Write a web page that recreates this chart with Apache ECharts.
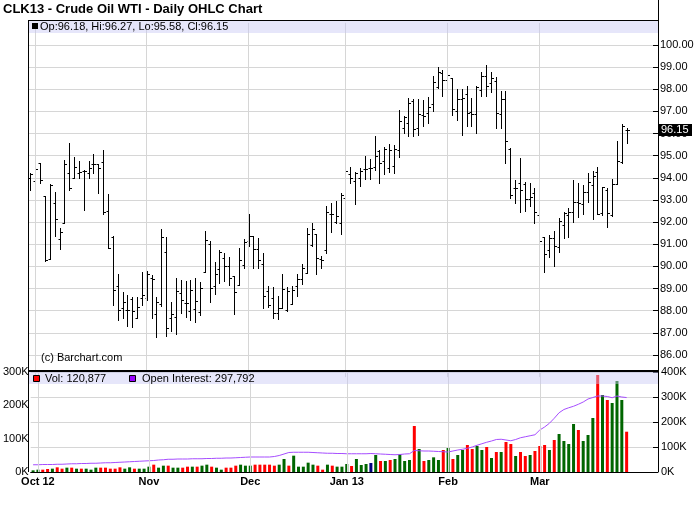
<!DOCTYPE html>
<html><head><meta charset="utf-8">
<script src="https://cdn.jsdelivr.net/npm/echarts/dist/echarts.min.js"></script>
<style>html,body{margin:0;padding:0;background:#fff}#c{width:700px;height:512px}</style>
</head><body><div id="c"></div>
<script>
// ---------------- DATA ----------------
const chartTitle = 'CLK13 - Crude Oil WTI - Daily OHLC Chart';
const dates = ['2012-09-28',
'2012-10-01','2012-10-02','2012-10-03','2012-10-04','2012-10-05','2012-10-08','2012-10-09','2012-10-10','2012-10-11','2012-10-12',
'2012-10-15','2012-10-16','2012-10-17','2012-10-18','2012-10-19','2012-10-22','2012-10-23','2012-10-24','2012-10-25','2012-10-26',
'2012-10-29','2012-10-30','2012-10-31',
'2012-11-01','2012-11-02','2012-11-05','2012-11-06','2012-11-07','2012-11-08','2012-11-09','2012-11-12','2012-11-13','2012-11-14',
'2012-11-15','2012-11-16','2012-11-19','2012-11-20','2012-11-21','2012-11-23','2012-11-26','2012-11-27','2012-11-28','2012-11-29','2012-11-30',
'2012-12-03','2012-12-04','2012-12-05','2012-12-06','2012-12-07','2012-12-10','2012-12-11','2012-12-12','2012-12-13','2012-12-14',
'2012-12-17','2012-12-18','2012-12-19','2012-12-20','2012-12-21','2012-12-24','2012-12-26','2012-12-27','2012-12-28','2012-12-31',
'2013-01-02','2013-01-03','2013-01-04','2013-01-07','2013-01-08','2013-01-09','2013-01-10','2013-01-11','2013-01-14','2013-01-15',
'2013-01-16','2013-01-17','2013-01-18','2013-01-22','2013-01-23','2013-01-24','2013-01-25','2013-01-28','2013-01-29','2013-01-30','2013-01-31',
'2013-02-01','2013-02-04','2013-02-05','2013-02-06','2013-02-07','2013-02-08','2013-02-11','2013-02-12','2013-02-13','2013-02-14',
'2013-02-15','2013-02-19','2013-02-20','2013-02-21','2013-02-22','2013-02-25','2013-02-26','2013-02-27','2013-02-28',
'2013-03-01','2013-03-04','2013-03-05','2013-03-06','2013-03-07','2013-03-08','2013-03-11','2013-03-12','2013-03-13','2013-03-14',
'2013-03-15','2013-03-18','2013-03-19','2013-03-20','2013-03-21','2013-03-22','2013-03-25','2013-03-26','2013-03-27'];

const openP = [93.98,93.86,94.67,93.18,90.35,92.88,91.25,91.95,94.20,94.00,
94.24,94.29,94.24,94.61,94.61,94.72,92.51,91.35,89.12,88.12,
88.05,88.53,87.67,88.57,88.57,89.46,87.86,88.31,90.65,87.65,
87.71,88.80,88.36,88.00,88.09,87.93,89.75,91.02,89.11,89.89,
90.39,90.02,89.59,89.14,90.06,91.15,91.37,90.80,90.12,88.89,
88.58,87.91,88.13,88.03,88.31,89.11,89.41,89.71,90.99,91.45,
90.35,90.74,92.38,92.02,91.94,93.10,94.16,93.86,93.98,94.38,
94.43,94.49,95.21,94.76,94.43,94.53,95.26,96.27,96.48,97.48,
96.27,96.84,96.94,97.34,98.12,98.75,98.42,98.49,97.02,97.55,
97.77,96.99,96.87,97.99,98.60,98.27,98.37,96.88,97.55,95.30,
93.53,93.75,93.70,93.05,93.30,92.32,91.31,90.74,91.27,90.89,
91.87,92.32,92.47,92.92,92.80,93.37,93.68,94.25,92.43,93.45,
92.32,93.71,94.70,96.18];
const highP = [94.22,94.77,94.69,93.19,93.70,93.35,91.72,94.82,95.59,94.96,
94.77,94.35,94.78,95.06,94.61,95.28,93.25,91.38,89.65,88.85,
88.69,88.64,88.61,89.73,89.78,89.60,88.61,91.71,91.35,88.41,
89.46,89.40,89.33,89.40,89.48,89.28,91.61,91.17,90.21,90.74,
90.60,90.44,89.59,90.81,91.22,92.35,91.37,91.30,90.62,89.11,
89.07,88.66,89.67,89.07,89.11,89.64,90.09,91.72,91.97,91.48,
90.47,92.73,92.88,92.95,93.30,95.09,94.49,94.28,94.43,94.99,
94.84,95.89,95.24,95.39,95.54,95.47,97.07,96.79,97.62,97.58,
97.55,97.52,97.67,98.60,99.02,98.87,99.05,98.49,98.00,98.00,
98.15,97.62,98.15,98.80,99.10,98.80,98.57,97.92,97.92,95.35,
93.92,94.90,93.80,93.78,93.53,92.32,91.34,91.42,91.58,92.17,
92.47,92.62,93.90,93.78,93.68,94.23,94.31,94.50,93.57,93.53,
93.95,95.66,96.43,96.27];
const lowP = [93.43,93.86,93.77,90.23,90.32,91.37,90.80,91.95,93.47,93.99,
94.01,92.55,93.99,94.20,93.31,92.38,90.81,88.25,87.56,87.68,
87.29,87.25,87.67,88.25,88.50,87.66,86.80,88.20,86.88,87.10,
86.95,87.90,87.71,87.60,87.49,87.80,89.75,88.39,88.74,89.23,
89.34,89.16,87.83,89.14,89.94,90.92,89.94,89.94,88.13,88.16,
87.65,87.61,88.13,87.98,88.31,88.66,89.19,89.71,90.92,89.64,
89.91,90.62,91.55,91.97,91.45,93.10,93.75,92.80,93.63,93.93,
93.93,94.34,93.75,94.16,94.28,94.23,94.93,96.04,95.87,95.89,
95.93,96.34,96.49,97.02,98.07,97.70,97.49,96.84,96.61,95.93,
96.34,96.34,96.01,97.70,97.71,97.89,96.27,96.24,94.65,93.08,
92.86,92.48,92.50,92.73,91.94,90.48,89.76,90.44,90.00,90.67,
91.27,91.34,92.02,92.25,92.35,92.92,92.13,92.35,92.32,91.79,
92.29,93.71,94.66,95.58];
const closeP = [94.18,94.41,93.90,90.27,93.67,92.12,91.55,94.61,93.53,94.51,
94.27,94.31,94.46,94.63,94.46,92.45,90.84,88.93,88.04,88.40,
88.03,88.00,88.17,88.72,89.67,89.41,88.41,91.33,87.20,87.86,
88.90,88.47,88.36,88.95,88.42,89.02,91.20,89.02,89.64,90.65,
90.02,89.48,88.84,90.27,91.10,91.37,90.80,90.27,88.66,88.28,
87.91,88.13,88.99,88.89,88.92,89.41,89.91,91.45,91.70,90.36,
90.29,92.47,92.35,92.30,93.21,94.31,93.98,94.23,94.31,94.38,
94.43,94.99,94.68,95.29,95.24,95.29,96.57,96.76,97.40,96.21,
96.88,96.79,97.21,98.31,98.77,98.42,98.64,97.09,97.55,97.60,
96.91,96.87,98.12,98.60,98.15,98.49,96.91,97.55,95.66,93.24,
93.54,93.45,93.03,93.13,92.44,91.15,90.56,91.30,90.90,92.07,
92.43,92.47,92.89,92.85,93.37,93.83,94.10,92.35,93.57,92.43,
93.71,94.78,96.36,96.15];
// volume in thousands of contracts
const volumeK = [5,
7,7,9,10,14,10,13,13,10,10,
10,7,13,13,13,10,10,14,10,14,
10,10,10,16,22,13,19,19,13,13,
13,16,16,16,19,22,16,13,7,13,
13,19,22,19,19,22,22,22,22,19,
22,39,19,49,16,16,28,22,19,7,
22,19,16,16,24,18,39,21,24,27,
51,33,33,36,39,53,33,36,138,69,
33,36,44,36,66,72,39,51,66,81,
69,78,66,75,42,60,60,90,84,48,
60,48,51,63,78,81,66,96,114,93,
84,144,126,93,111,162,291,231,216,207,
273,216,120.877];
// u = up day, d = down day, n = unchanged
const volumeDir = ['u',
'u','d','d','u','d','d','u','d','u','d',
'u','u','u','d','d','d','d','d','u','u',
'd','u','u','u','d','u','u','d','u','u',
'd','d','u','d','u','u','d','u','u','d',
'd','d','u','u','u','d','d','d','d','d',
'u','u','d','u','u','u','u','u','d','d',
'u','d','u','u','u','d','u','u','u','n',
'u','d','u','d','u','u','u','u','d','u',
'd','u','u','u','d','u','d','u','u','d',
'd','u','u','d','u','d','u','d','d','u',
'd','d','u','d','d','d','u','d','u','u',
'u','u','d','u','u','u','d','u','d','u',
'u','u','d'];
// open interest in thousands of contracts
const openInterestK = [29,29,30,30,30,31,31,32,33,33,
34,34,35,35,36,37,37,38,39,40,
41,42,43,44,45,46,48,49,51,51,
52,52,52,53,53,53,54,54,55,55,
56,56,57,58,59,60,60,60,60,60,
62,66,72,78,79,79,79,79,78,77,
76,75,75,74,74,73,73,73,73,73,
74,73,72,71,70,69,70,72,73,86,
85,84,84,83,82,81,80,84,88,91,
95,100,107,113,119,124,130,131,128,125,
130,137,141,145,149,168,180,195,215,237,
250,257,263,271,280,292,298,304,304,302,
297,304,300,297.792];
const priceTicks = [86,87,88,89,90,91,92,93,94,95,96,97,98,99,100];
const volLeftTicks = [0,100,200,300];
const volRightTicks = [0,100,200,300,400];
const monthNames = ['Jan','Feb','Mar','Apr','May','Jun','Jul','Aug','Sep','Oct','Nov','Dec'];

// ---------------- LAYOUT ----------------
const FONT = '"Liberation Sans", Arial, Helvetica, sans-serif';
const GRID = '#d6d6d6';
const PAD_SLOTS = 6;
const L = 28, R = 42, PLOT_R = 700 - R;
const PX_PER_UNIT = 310 / 14;
const priceTop = 45 - PX_PER_UNIT;
const priceHeight = 16 * PX_PER_UNIT;
const volTop = 372, volHeight = 100;
const BAND = 'rgba(200,200,245,0.45)';
const COLORS = {u: '#006600', d: '#ff0000', n: '#000080'};

const categories = dates.concat(new Array(PAD_SLOTS).fill(''));
const monthLabel = {};
let nLabels = 0;
for (let i = 1; i < dates.length; i++) {
  if (dates[i].slice(5, 7) !== dates[i - 1].slice(5, 7)) {
    const m = +dates[i].slice(5, 7);
    monthLabel[i] = monthNames[m - 1] + ((m === 1 || nLabels === 0) ? ' ' + dates[i].slice(2, 4) : '');
    nLabels++;
  }
}
const monthIdx = Object.keys(monthLabel).map(Number);

const ohlcData = dates.map((d, i) => [i, openP[i], highP[i], lowP[i], closeP[i]]);
const volData = volumeK.map((v, i) => ({value: v, itemStyle: {color: COLORS[volumeDir[i]]}}));

function renderOHLC(params, api) {
  const i = api.value(0);
  const hi = api.coord([i, api.value(2)]);
  const lo = api.coord([i, api.value(3)]);
  const op = api.coord([i, api.value(1)]);
  const cl = api.coord([i, api.value(4)]);
  const cx = Math.round(hi[0]) + 0.5;
  const oy = Math.round(op[1]) + 0.5, cy = Math.round(cl[1]) + 0.5;
  const st = {stroke: '#000', lineWidth: 1};
  return {type: 'group', children: [
    {type: 'line', shape: {x1: cx, y1: Math.round(hi[1]), x2: cx, y2: Math.round(lo[1]) + 1}, style: st},
    {type: 'line', shape: {x1: cx - 2, y1: oy, x2: cx, y2: oy}, style: st},
    {type: 'line', shape: {x1: cx, y1: cy, x2: cx + 2.5, y2: cy}, style: st}
  ]};
}

const vLines = monthIdx.map(i => ({xAxis: categories[i]}));
const markLineStyle = {silent: true, symbol: 'none', label: {show: false}, animation: false,
  lineStyle: {color: GRID, width: 1, type: 'solid'}, emphasis: {disabled: true}};

const chart = echarts.init(document.getElementById('c'), null, {renderer: 'canvas', width: 700, height: 512});
const option = {
  animation: false,
  backgroundColor: '#fff',
  textStyle: {fontFamily: FONT},
  grid: [
    {left: L, right: R, top: priceTop, height: priceHeight},
    {left: L, right: R, top: volTop, height: volHeight}
  ],
  xAxis: [
    {type: 'category', gridIndex: 0, data: categories, boundaryGap: true, show: false},
    {type: 'category', gridIndex: 1, data: categories, boundaryGap: true,
      axisLine: {show: true, lineStyle: {color: '#000', width: 1}},
      axisTick: {show: false}, splitLine: {show: false},
      axisLabel: {interval: (idx) => monthLabel[idx] !== undefined, formatter: (v, idx) => monthLabel[idx] || '',
        fontFamily: FONT, fontSize: 11, fontWeight: 'bold', color: '#000', margin: 4}}
  ],
  yAxis: [
    {type: 'value', gridIndex: 0, position: 'right', min: 85, max: 101, interval: 1,
      axisLine: {show: false},
      axisTick: {show: true, inside: true, length: 5, lineStyle: {color: '#000'}, customValues: priceTicks},
      axisLabel: {customValues: priceTicks, formatter: v => (priceTicks.indexOf(v) >= 0 ? v.toFixed(2) : ''),
        fontFamily: FONT, fontSize: 11, color: '#000', margin: 2},
      splitLine: {show: true, lineStyle: {color: GRID, width: 1}}},
    {type: 'value', gridIndex: 1, position: 'left', min: 0, max: 300, interval: 100,
      axisLine: {show: false}, axisTick: {show: false}, splitLine: {show: false},
      axisLabel: {formatter: v => (volLeftTicks.indexOf(v) >= 0 ? v + 'K' : ''), fontFamily: FONT, fontSize: 11, color: '#000', margin: 2}},
    {type: 'value', gridIndex: 1, position: 'right', min: 0, max: 400, interval: 100,
      axisLine: {show: false},
      axisTick: {show: true, inside: true, length: 5, lineStyle: {color: '#000'}},
      axisLabel: {formatter: v => (volRightTicks.indexOf(v) >= 0 ? v + 'K' : ''), fontFamily: FONT, fontSize: 11, color: '#000', margin: 3},
      splitLine: {show: true, lineStyle: {color: GRID, width: 1}}}
  ],
  series: [
    {type: 'line', xAxisIndex: 0, yAxisIndex: 0, data: [], z: 0, silent: true, markLine: Object.assign({data: vLines}, markLineStyle)},
    {type: 'line', xAxisIndex: 1, yAxisIndex: 1, data: [], z: 0, silent: true, markLine: Object.assign({data: vLines}, markLineStyle)},
    {type: 'custom', name: 'OHLC', xAxisIndex: 0, yAxisIndex: 0, data: ohlcData, renderItem: renderOHLC,
      encode: {x: 0, y: [1, 2, 3, 4]}, z: 3, silent: true},
    {type: 'bar', name: 'Vol', xAxisIndex: 1, yAxisIndex: 1, data: volData, barWidth: 3, z: 2, silent: true},
    {type: 'line', name: 'Open Interest', xAxisIndex: 1, yAxisIndex: 2, data: openInterestK, symbol: 'none',
      lineStyle: {color: '#a64dff', width: 1}, z: 4, silent: true}
  ]
};
chart.setOption(option);

const n = dates.length - 1;
const lastY = chart.convertToPixel({yAxisIndex: 0}, closeP[n]);
const fmtK = v => Math.round(v * 1000).toLocaleString('en-US');
const txt = (x, y, s, extra) => Object.assign({type: 'text', x: x, y: y, z: 100,
  style: Object.assign({text: s, font: '11px ' + FONT, fill: '#000', textVerticalAlign: 'middle', verticalAlign: 'middle'}, extra || {})});
chart.setOption({graphic: [
  txt(3, 9, chartTitle, {font: 'bold 13px ' + FONT}),
  // price panel legend band
  {type: 'rect', z: 90, shape: {x: L + 1, y: 20, width: PLOT_R - L - 1, height: 13}, style: {fill: BAND}},
  {type: 'rect', z: 100, shape: {x: 32, y: 23, width: 6, height: 6}, style: {fill: '#000'}},
  txt(40, 27, 'Op:' + openP[n].toFixed(2) + ', Hi:' + highP[n].toFixed(2) + ', Lo:' + lowP[n].toFixed(2) + ', Cl:' + closeP[n].toFixed(2)),
  txt(41, 358, '(c) Barchart.com'),
  // volume panel legend band
  {type: 'rect', z: 90, shape: {x: L + 1, y: 372, width: PLOT_R - L - 1, height: 12}, style: {fill: BAND}},
  {type: 'rect', z: 100, shape: {x: 33.5, y: 375.5, width: 6, height: 6}, style: {fill: '#ff0000', stroke: '#000', lineWidth: 1}},
  txt(45, 379, 'Vol: ' + fmtK(volumeK[n])),
  {type: 'rect', z: 100, shape: {x: 129.5, y: 375.5, width: 6, height: 6}, style: {fill: '#9900ff', stroke: '#000', lineWidth: 1}},
  txt(142, 379, 'Open Interest: ' + fmtK(openInterestK[n])),
  // frame
  {type: 'line', z: 95, shape: {x1: L, y1: 20.5, x2: PLOT_R, y2: 20.5}, style: {stroke: '#000', lineWidth: 1}},
  {type: 'line', z: 95, shape: {x1: L + 0.5, y1: 20, x2: L + 0.5, y2: 472}, style: {stroke: '#000', lineWidth: 1}},
  {type: 'line', z: 95, shape: {x1: PLOT_R + 0.5, y1: 0, x2: PLOT_R + 0.5, y2: 472}, style: {stroke: '#000', lineWidth: 1}},
  {type: 'line', z: 95, shape: {x1: L, y1: 371, x2: PLOT_R, y2: 371}, style: {stroke: '#000', lineWidth: 2}},
  // last price tag
  {type: 'rect', z: 100, shape: {x: 659, y: Math.round(lastY) - 6, width: 33, height: 12}, style: {fill: '#000'}},
  txt(661, Math.round(lastY), closeP[n].toFixed(2), {fill: '#fff'})
]});
</script>
</body></html>
